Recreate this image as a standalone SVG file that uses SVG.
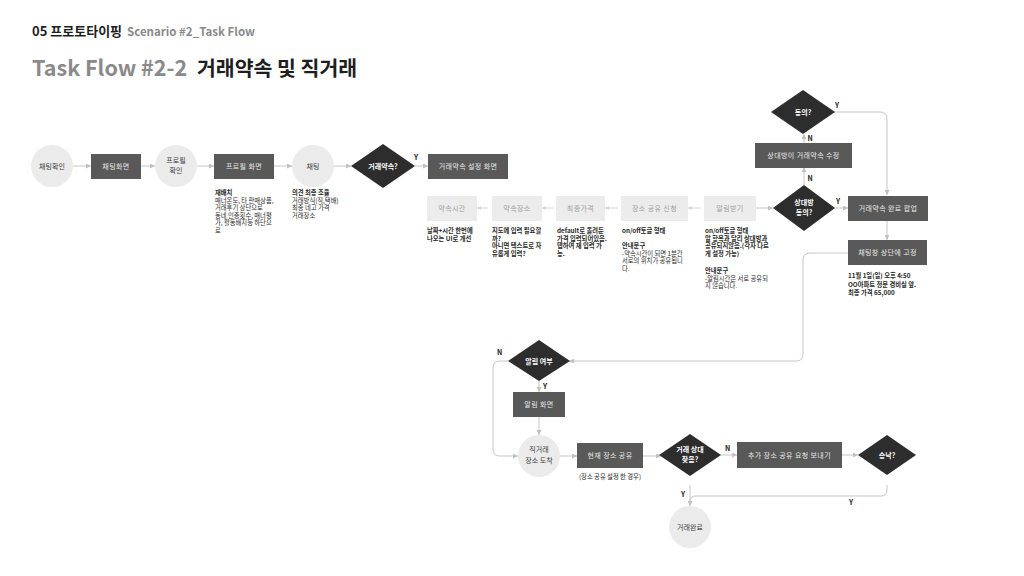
<svg xmlns="http://www.w3.org/2000/svg" width="1024" height="576" viewBox="0 0 1024 576">
<defs>
<style>
text{font-family:"Noto Sans CJK KR","Noto Sans",sans-serif}
.dk{fill:#595959}
.lt{fill:#ececec}
.cir{fill:#ebebeb}
.dia{fill:#2d2d2d}
.tw{fill:#e8e8e8;font-size:7px;text-anchor:middle;letter-spacing:0.4px}
.tl{fill:#a0a0a0;font-size:7px;text-anchor:middle;letter-spacing:0.4px}
.tc{fill:#3c3c3c;font-size:7px;text-anchor:middle}
.td{fill:#ffffff;font-size:7px;font-weight:bold;text-anchor:middle}
.note{font-size:6.3px;fill:#2a2a2a}
.b{font-weight:bold}
.yn{font-size:7px;font-weight:bold;fill:#222}
.con{stroke:#c6c6c6;stroke-width:1;fill:none}
.conl{stroke:#d6d6d6;stroke-width:1;fill:none}
</style>
<marker id="ar" markerWidth="5" markerHeight="5" refX="5" refY="2.5" orient="auto" markerUnits="userSpaceOnUse">
<path d="M0,0 L5,2.5 L0,5 z" fill="#c0c0c0"/>
</marker>
<marker id="arl" markerWidth="4" markerHeight="4" refX="4" refY="2" orient="auto" markerUnits="userSpaceOnUse">
<path d="M0,0 L4,2 L0,4 z" fill="#d6d6d6"/>
</marker>
</defs>
<rect width="1024" height="576" fill="#ffffff"/>

<g id="header">
<text x="32" y="36" font-size="13" font-weight="bold" fill="#1e1e1e">05 프로토타이핑 <tspan font-size="11.5" font-weight="600" fill="#8a8a8a" dx="2">Scenario #2_Task Flow</tspan></text>
<text x="32" y="76" font-size="21.5" font-weight="bold" fill="#8a8a8a">Task Flow #2-2</text>
<text x="197" y="76" font-size="20.5" font-weight="bold" fill="#1e1e1e">거래약속 및 직거래</text>
</g>

<g id="connectors">
<path class="con" d="M73,166 H91" marker-end="url(#ar)"/>
<path class="con" d="M141,166 H155" marker-end="url(#ar)"/>
<path class="con" d="M197,166 H214" marker-end="url(#ar)"/>
<path class="con" d="M274,166 H292" marker-end="url(#ar)"/>
<path class="con" d="M334,166 H351" marker-end="url(#ar)"/>
<path class="con" d="M415,166 H428" marker-end="url(#ar)"/>
<path class="conl" d="M488,208 H477" marker-end="url(#arl)"/>
<path class="conl" d="M553,208 H542" marker-end="url(#arl)"/>
<path class="conl" d="M618,208 H605" marker-end="url(#arl)"/>
<path class="conl" d="M701,208 H688" marker-end="url(#arl)"/>
<path class="con" d="M756,208 H773" marker-end="url(#ar)"/>
<path class="con" d="M835,208 H848" marker-end="url(#ar)"/>
<path class="con" d="M834,112 H880 Q887,112 887,119 V195" marker-end="url(#ar)"/>
<path class="con" d="M804,185 V167" marker-end="url(#ar)"/>
<path class="con" d="M804,143 V134" marker-end="url(#ar)"/>
<path class="con" d="M887,221 V240" marker-end="url(#ar)"/>
<path class="con" d="M848,253 H810 Q803,253 803,260 V354 Q803,361 796,361 H569" marker-end="url(#ar)"/>
<path class="con" d="M508,361 H500 Q493,361 493,368 V449 Q493,456 500,456 H518" marker-end="url(#ar)"/>
<path class="con" d="M539,381 V392" marker-end="url(#ar)"/>
<path class="con" d="M539,417 V435" marker-end="url(#ar)"/>
<path class="con" d="M560,456 H577" marker-end="url(#ar)"/>
<path class="con" d="M643,456 H661" marker-end="url(#ar)"/>
<path class="con" d="M720,455 H737" marker-end="url(#ar)"/>
<path class="con" d="M842,455 H858" marker-end="url(#ar)"/>
<path class="con" d="M690,485 V506" marker-end="url(#ar)"/>
<path class="con" d="M887,485 V490 Q887,496 881,496 H696 Q690,496 690,502"/>
<text class="yn" x="414" y="160">Y</text>
<text class="yn" x="835" y="108">Y</text>
<text class="yn" x="807.5" y="141">N</text>
<text class="yn" x="807.5" y="181">N</text>
<text class="yn" x="836" y="204">Y</text>
<text class="yn" x="497" y="355">N</text>
<text class="yn" x="543" y="389">Y</text>
<text class="yn" x="725" y="451">N</text>
<text class="yn" x="681" y="497">Y</text>
<text class="yn" x="849" y="505">Y</text>
</g>

<g id="n-chat-check"><circle class="cir" cx="52" cy="166" r="21"/><text class="tc" x="52" y="168.5">채팅확인</text></g>
<g id="n-chat-screen"><rect class="dk" x="91" y="154" width="50" height="25"/><text class="tw" x="116" y="168.5">채팅화면</text></g>
<g id="n-profile-check"><circle class="cir" cx="176" cy="166" r="21"/><text class="tc" x="176" y="163">프로필</text><text class="tc" x="176" y="173">확인</text></g>
<g id="n-profile-screen"><rect class="dk" x="214" y="154" width="60" height="25"/><text class="tw" x="244" y="168.5">프로필 화면</text>
<text class="note" x="215"><tspan x="215" y="195" class="b">재배치</tspan><tspan x="215" y="202.5">매너온도, 타 판매상품,</tspan><tspan x="215" y="210">거래후기 상단으로</tspan><tspan x="215" y="217.5">동네 인증횟수, 매너평</tspan><tspan x="215" y="225">가, 활동배지등 하단으</tspan><tspan x="215" y="232.5">로</tspan></text></g>
<g id="n-chat"><circle class="cir" cx="313" cy="166" r="21"/><text class="tc" x="313" y="168.5">채팅</text>
<text class="note" x="292"><tspan x="292" y="195" class="b">의견 최종 조율</tspan><tspan x="292" y="202.5">거래방식(직,택배)</tspan><tspan x="292" y="210">최종 네고 가격</tspan><tspan x="292" y="217.5">거래장소</tspan></text></g>
<g id="n-deal-q"><polygon class="dia" points="383,144 415,166 383,188 351,166"/><text class="td" x="383" y="168.5">거래약속?</text></g>
<g id="n-deal-setup"><rect class="dk" x="428" y="154" width="80" height="25"/><text class="tw" x="468" y="168.5">거래약속 설정 화면</text></g>

<g id="n-time"><rect class="lt" x="427" y="196" width="50" height="25"/><text class="tl" x="452" y="210.5">약속시간</text>
<text class="note b" x="427"><tspan x="427" y="233">날짜+시간 한번에</tspan><tspan x="427" y="241">나오는 UI로 개선</tspan></text></g>
<g id="n-place"><rect class="lt" x="492" y="196" width="50" height="25"/><text class="tl" x="517" y="210.5">약속장소</text>
<text class="note b" x="492"><tspan x="492" y="233">지도에 입력 필요할</tspan><tspan x="492" y="240.5">까?</tspan><tspan x="492" y="248">아니면 텍스트로 자</tspan><tspan x="492" y="255.5">유롭게 입력?</tspan></text></g>
<g id="n-price"><rect class="lt" x="556" y="196" width="49" height="25"/><text class="tl" x="580.5" y="210.5">최종가격</text>
<text class="note b" x="557"><tspan x="557" y="233">default로 올려둔</tspan><tspan x="557" y="240.5">가격 입력되어있음.</tspan><tspan x="557" y="248">탭하여 재 입력 가</tspan><tspan x="557" y="255.5">능.</tspan></text></g>
<g id="n-share"><rect class="lt" x="621" y="196" width="67" height="25"/><text class="tl" x="654.5" y="210.5">장소 공유 신청</text>
<text class="note" x="622"><tspan x="622" y="233" class="b">on/off토글 형태</tspan><tspan x="622" y="248" class="b">안내문구</tspan><tspan x="622" y="255.5">-약속시간이 되면 1분간</tspan><tspan x="622" y="263">서로의 위치가 공유됩니</tspan><tspan x="622" y="270.5">다.</tspan></text></g>
<g id="n-alarm"><rect class="lt" x="704" y="196" width="52" height="25"/><text class="tl" x="730" y="210.5">알림받기</text>
<text class="note" x="705"><tspan x="705" y="233" class="b">on/off토글 형태</tspan><tspan x="705" y="240.5" class="b">알 항목과 달리 상대방과</tspan><tspan x="705" y="248" class="b">공유되지않음.(각자 다르</tspan><tspan x="705" y="255.5" class="b">게 설정 가능)</tspan><tspan x="705" y="273" class="b">안내문구</tspan><tspan x="705" y="280.5">-알림시간은 서로 공유되</tspan><tspan x="705" y="288">지 않습니다.</tspan></text></g>

<g id="n-agree-q"><polygon class="dia" points="803,90 835,112 803,134 771,112"/><text class="td" x="803" y="114.5">동의?</text></g>
<g id="n-modify"><rect class="dk" x="755" y="143" width="97" height="25"/><text class="tw" x="803.5" y="157.5">상대방이 거래약속 수정</text></g>
<g id="n-other-agree"><polygon class="dia" points="804,185 835,208 804,231 773,208"/><text class="td" x="804" y="205">상대방</text><text class="td" x="804" y="215">동의?</text></g>
<g id="n-done-popup"><rect class="dk" x="848" y="196" width="80" height="25"/><text class="tw" x="888" y="210.5">거래약속 완료 팝업</text></g>
<g id="n-pin"><rect class="dk" x="848" y="240" width="79" height="25"/><text class="tw" x="887.5" y="254.5">채팅창 상단에 고정</text>
<text class="note b" font-size="6.8" x="848"><tspan x="848" y="278">11월 1일(일) 오후 4:50</tspan><tspan x="848" y="286.5">OO아파트 정문 경비실 앞.</tspan><tspan x="848" y="295">최종 가격 65,000</tspan></text></g>

<g id="n-alarm-q"><polygon class="dia" points="539,340 570,361 539,381 508,361"/><text class="td" x="539" y="363.5">알림 여부</text></g>
<g id="n-alarm-screen"><rect class="dk" x="513" y="392" width="52" height="25"/><text class="tw" x="539" y="406.5">알림 화면</text></g>
<g id="n-arrive"><circle class="cir" cx="539" cy="456" r="21"/><text class="tc" x="539" y="452">직거래</text><text class="tc" x="539" y="463">장소 도착</text></g>
<g id="n-cur-share"><rect class="dk" x="577" y="443" width="66" height="25"/><text class="tw" x="610" y="457.5">현재 장소 공유</text>
<text class="note" x="610" y="479" text-anchor="middle">(장소 공유 설정 한 경우)</text></g>
<g id="n-found-q"><polygon class="dia" points="690,434 721,455 690,476 659,455"/><text class="td" x="690" y="452">거래 상대</text><text class="td" x="690" y="462">찾음?</text></g>
<g id="n-request"><rect class="dk" x="737" y="442" width="105" height="26"/><text class="tw" x="789.5" y="457.5">추가 장소 공유 요청 보내기</text></g>
<g id="n-accept-q"><polygon class="dia" points="887,435 916,455 887,475 858,455"/><text class="td" x="887" y="457.5">승낙?</text></g>
<g id="n-complete"><circle class="cir" cx="690" cy="527" r="21"/><text class="tc" x="690" y="529.5">거래완료</text></g>
</svg>
